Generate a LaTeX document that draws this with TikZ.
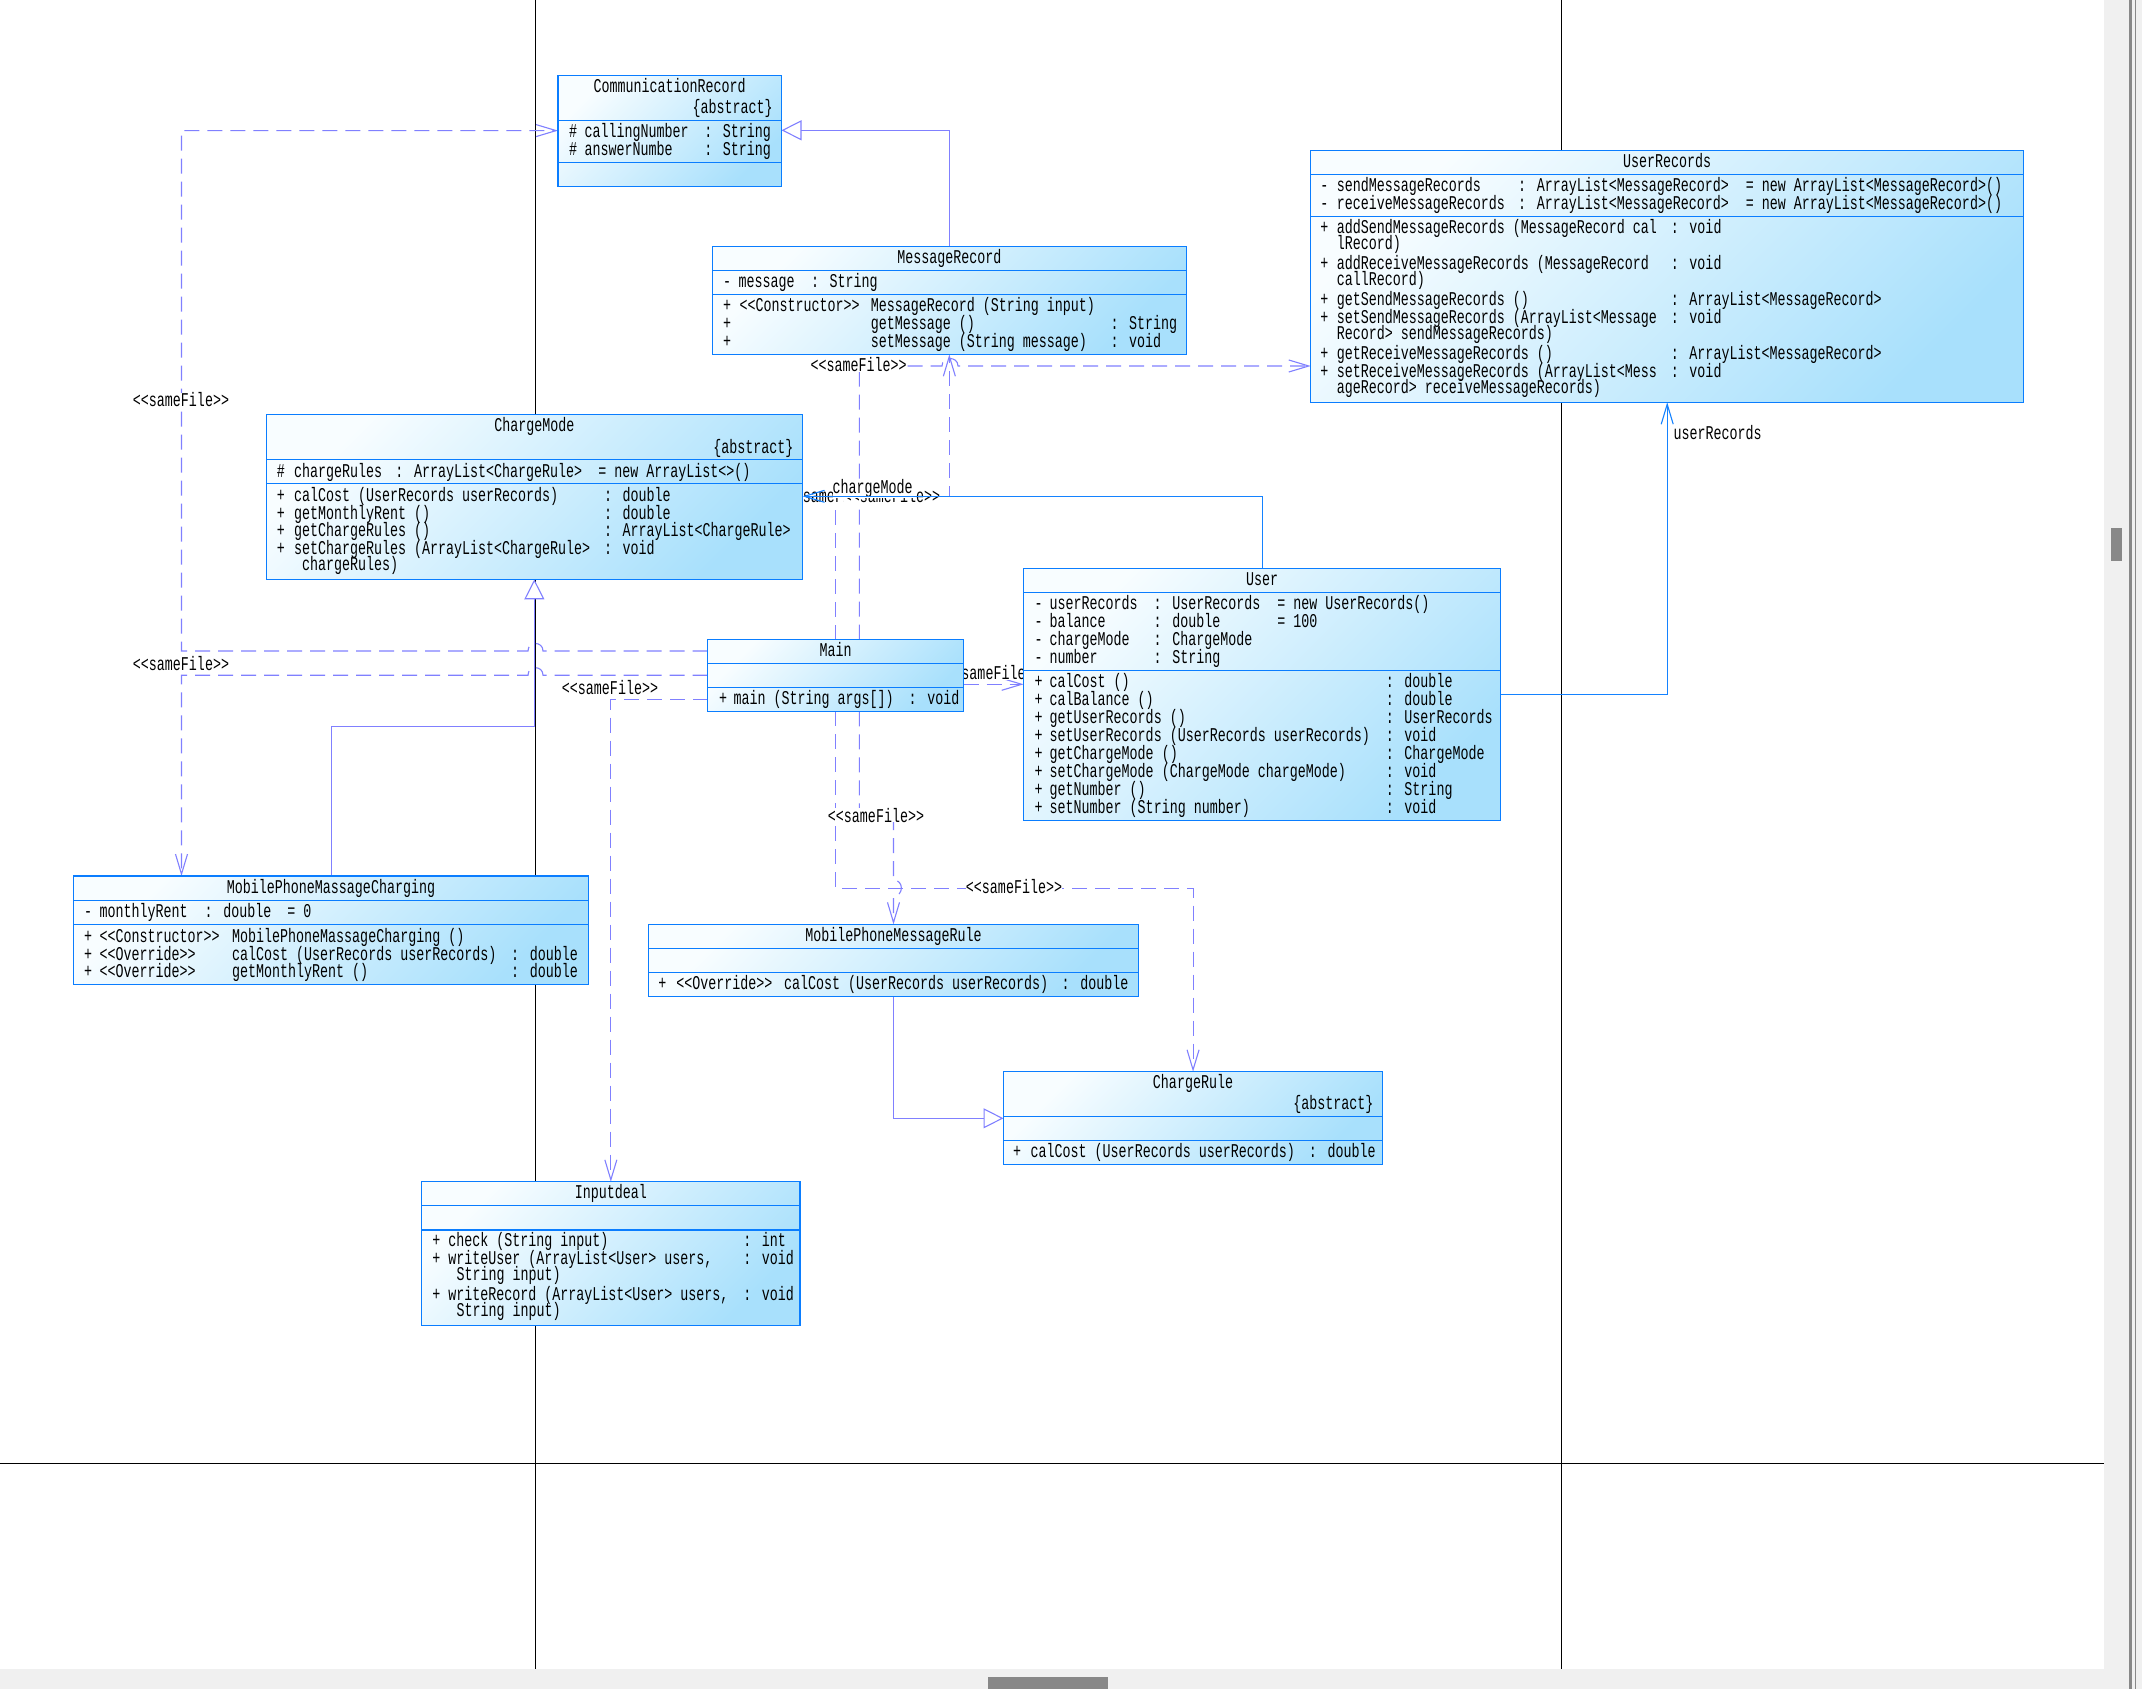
\documentclass[tikz,border=0pt]{standalone}
\usepackage{fontspec}
\newfontfamily\umlf[FakeStretch=0.684,Ligatures=TeXOff]{Liberation Mono}
\usetikzlibrary{arrows.meta}
\definecolor{bbord}{RGB}{10,125,255}
\definecolor{boxtop}{RGB}{248,253,255}
\definecolor{boxbot}{RGB}{168,224,252}
\definecolor{genc}{RGB}{128,128,255}
\definecolor{depc}{RGB}{128,128,255}
\definecolor{ascc}{RGB}{20,130,255}
\definecolor{scrl}{RGB}{240,240,240}
\definecolor{scrd}{RGB}{136,136,136}
\pgfdeclarelayer{bgl}
\pgfdeclarelayer{lnl}
\pgfsetlayers{bgl,lnl,main}
\newcounter{tn}
\newcommand\txL[3]{\stepcounter{tn}\node[txt,anchor=base west] (tx\arabic{tn}) at (#1,#2+5.5) {#3};}
\newcommand\txC[3]{\stepcounter{tn}\node[txt,anchor=base] (tx\arabic{tn}) at (#1,#2+5.5) {#3};}
\newcommand\txR[3]{\stepcounter{tn}\node[txt,anchor=base east] (tx\arabic{tn}) at (#1,#2+5.5) {#3};}
\newcommand\lbC[3]{\stepcounter{tn}\node[txt,fill=white,anchor=base] (tx\arabic{tn}) at (#1,#2+5.5) {#3};}
\newcommand\lbL[3]{\stepcounter{tn}\node[txt,fill=white,anchor=base west] (tx\arabic{tn}) at (#1,#2+5.5) {#3};}
\newcommand\umlbox[7]{%
  \node[box, anchor=north west, minimum width={#4-#2}, minimum height={#5-#3}] (#1) at (#2,#3) {};
  \draw[divl] (#1.west |- 0,#6) -- (#1.east |- 0,#6);
  \draw[divl] (#1.west |- 0,#7) -- (#1.east |- 0,#7);
}
\begin{document}
\begin{tikzpicture}[x=1pt,y=-1pt,
  txt/.style={font=\umlf\fontsize{19.5}{19.5}\selectfont, inner sep=0pt, outer sep=0pt, text=black},
  box/.style={draw=bbord, line width=1.2pt, inner sep=0pt, outer sep=0pt, top color=boxtop, bottom color=boxbot, shading angle=45},
  divl/.style={draw=bbord, line width=1.2pt},
  gen/.style={draw=genc, line width=1.1pt, -{Triangle[length=20pt,width=20pt,fill=white]}},
  dep/.style={draw=depc, line width=1.1pt, dash pattern=on 15pt off 8pt, -{Straight Barb[length=20pt,width=12pt]}},
  asc/.style={draw=ascc, line width=1.1pt, -{Straight Barb[length=20pt,width=12pt]}},
  pagel/.style={draw=black, line width=1.4pt}]
\useasboundingbox (0,0) rectangle (2142,1689);
\begin{pgfonlayer}{bgl}
  \fill[white] (0,0) rectangle (2142,1689);
  \fill[scrl] (2104,0) rectangle (2142,1689);
  \fill[scrl] (0,1669) rectangle (2104,1689);
  \fill[scrd] (2129,0) rectangle (2132,1689);
  \fill[scrd] (2135,0) rectangle (2136,1689);
  \fill[scrd] (2111,528) rectangle (2122,561);
  \fill[scrd] (988,1677) rectangle (1108,1689);
  \draw[pagel] (535.5,0) -- (535.5,1669);
  \draw[pagel] (1561.5,0) -- (1561.5,1669);
  \draw[pagel] (0,1463.3) -- (2104,1463.3);
\end{pgfonlayer}

% ---------------- boxes ----------------
\umlbox{cr}{558}{75.5}{781.5}{186.3}{120.7}{162.3}
\umlbox{mr}{712.3}{246.3}{1186.4}{354.3}{270.3}{294.3}
\umlbox{ur}{1310.7}{150.7}{2023.7}{402.3}{174.3}{216.3}
\umlbox{cm}{266.1}{414.3}{802.6}{579.3}{459.7}{483.3}
\umlbox{us}{1023.6}{568.3}{1500.7}{820.3}{592.3}{670.7}
\umlbox{mn}{707.6}{639.7}{963.5}{711.3}{663.3}{687.7}
\umlbox{mc}{73.8}{876}{588.3}{984.3}{900.7}{924.7}
\umlbox{mrr}{648.7}{924.3}{1138.3}{996.3}{948.7}{972.3}
\umlbox{crl}{1003.5}{1071.7}{1382.6}{1164.3}{1116.7}{1140.3}
\umlbox{inp}{421.7}{1181.7}{800}{1325.3}{1205.3}{1230}

% ---------------- connectors ----------------
\begin{pgfonlayer}{lnl}
  % generalizations
  \draw[gen] (mr.north) |- (cr.east |- 0,130.3);
  \draw[gen] (mrr.south) |- (crl.west |- 0,1118.3);
  \draw[gen] (mc.north) |- (cm.south |- 0,726.7) -- (cm.south);
  % dependencies <<sameFile>>
  \draw[dep] (mn.west |- 0,651) -- (543,651) .. controls (543,641) and (528,641) .. (528,651) -- (181.5,651) -- (181.5,130.6) -- (cr.west |- 0,130.6);
  \draw[dep] (mn.west |- 0,675.2) -- (543,675.2) .. controls (543,665.2) and (528,665.2) .. (528,675.2) -- (181.5,675.2) -- (mc.north -| 181.5,0);
  \draw[dep] (mn.west |- 0,699.3) -- (inp.north |- 0,699.3) -- (inp.north);
  \draw[dep] (mn.north -| 859.3,0) -- (859.3,366) -- (942,366) .. controls (942,356) and (958,356) .. (958,366) -- (ur.west |- 0,366);
  \draw[dep] (mn.north -| 835.3,0) -- (835.3,496.3) -- (mr.south |- 0,496.3) -- (mr.south);
  \draw[dep] (mn.north -| 835.3,0) -- (835.3,496.3) -- (cm.east |- 0,496.3);
  \draw[dep] (mn.south -| 835.3,0) -- (835.3,888.3) -- (crl.north |- 0,888.3) -- (crl.north);
  \draw[dep] (mn.south -| 859.3,0) -- (859.3,816) -- (mrr.north |- 0,816) -- (mrr.north |- 0,880) .. controls (904,880) and (904,896) .. (mrr.north |- 0,896) -- (mrr.north);
  \draw[dep] (mn.east |- 0,684.3) -- (us.west |- 0,684.3);
  % labels of the dependencies
  \lbC{181}{401.2}{<<sameFile>>}
  \lbC{181}{665.2}{<<sameFile>>}
  \lbC{610}{689}{<<sameFile>>}
  \lbC{858.6}{366}{<<sameFile>>}
  \lbC{835}{497.3}{<<sameFile>>}
  \lbC{892}{497.3}{<<sameFile>>}
  \lbC{1014}{888.3}{<<sameFile>>}
  \lbC{876}{816.7}{<<sameFile>>}
  \lbC{993.5}{674.3}{<<sameFile>>}
  % associations
  \lbL{832.7}{488.3}{chargeMode}
  \txL{1673.5}{434.4}{userRecords}
  \draw[asc] (us.north) |- (cm.east |- 0,496.3);
  \draw[asc] (us.east |- 0,694.3) -| (ur.south);
\end{pgfonlayer}

% ---------------- CommunicationRecord ----------------
\txC{669.7}{87}{CommunicationRecord}
\txR{772.6}{108}{\{abstract\}}
\txL{569}{131.7}{\#}\txL{584.6}{131.7}{callingNumber}\txL{704.3}{131.7}{: String}
\txL{569}{150}{\#}\txL{584.6}{150}{answerNumbe}\txL{704.3}{150}{: String}

% ---------------- MessageRecord ----------------
\txC{949.4}{258}{MessageRecord}
\txL{723}{282}{-}\txL{738.6}{282}{message}\txL{811}{282}{: String}
\txL{723}{306}{+}\txL{739.5}{306}{<<Constructor>>}\txL{870.8}{306}{MessageRecord (String input)}
\txL{723}{324}{+}\txL{870.8}{324}{getMessage ()}\txL{1110.5}{324}{: String}
\txL{723}{342.3}{+}\txL{870.8}{342.3}{setMessage (String message)}\txL{1110.5}{342.3}{: void}

% ---------------- UserRecords ----------------
\txC{1667.2}{162.3}{UserRecords}
\txL{1320.4}{186}{-}\txL{1336.8}{186}{sendMessageRecords}\txL{1518.1}{186}{: ArrayList<MessageRecord>}\txL{1745.9}{186}{= new ArrayList<MessageRecord>()}
\txL{1320.4}{204}{-}\txL{1336.8}{204}{receiveMessageRecords}\txL{1518.1}{204}{: ArrayList<MessageRecord>}\txL{1745.9}{204}{= new ArrayList<MessageRecord>()}
\txL{1320.4}{228.3}{+}\txL{1336.8}{228.3}{addSendMessageRecords (MessageRecord cal}\txL{1670.8}{228.3}{: void}
\txL{1336.8}{244}{lRecord)}
\txL{1320.4}{264.3}{+}\txL{1336.8}{264.3}{addReceiveMessageRecords (MessageRecord}\txL{1670.8}{264.3}{: void}
\txL{1336.8}{280}{callRecord)}
\txL{1320.4}{300.3}{+}\txL{1336.8}{300.3}{getSendMessageRecords ()}\txL{1670.8}{300.3}{: ArrayList<MessageRecord>}
\txL{1320.4}{318.3}{+}\txL{1336.8}{318.3}{setSendMessageRecords (ArrayList<Message}\txL{1670.8}{318.3}{: void}
\txL{1336.8}{334}{Record> sendMessageRecords)}
\txL{1320.4}{354.3}{+}\txL{1336.8}{354.3}{getReceiveMessageRecords ()}\txL{1670.8}{354.3}{: ArrayList<MessageRecord>}
\txL{1320.4}{372.3}{+}\txL{1336.8}{372.3}{setReceiveMessageRecords (ArrayList<Mess}\txL{1670.8}{372.3}{: void}
\txL{1336.8}{388.3}{ageRecord> receiveMessageRecords)}

% ---------------- ChargeMode ----------------
\txC{534.4}{426}{ChargeMode}
\txR{793.4}{447.7}{\{abstract\}}
\txL{276.8}{471.7}{\#}\txL{294}{471.7}{chargeRules}\txL{395.4}{471.7}{: ArrayList<ChargeRule>}\txL{598.3}{471.7}{= new ArrayList<>()}
\txL{276.8}{495.7}{+}\txL{294}{495.7}{calCost (UserRecords userRecords)}\txL{604}{495.7}{: double}
\txL{276.8}{513.7}{+}\txL{294}{513.7}{getMonthlyRent ()}\txL{604}{513.7}{: double}
\txL{276.8}{531.3}{+}\txL{294}{531.3}{getChargeRules ()}\txL{604}{531.3}{: ArrayList<ChargeRule>}
\txL{276.8}{549.3}{+}\txL{294}{549.3}{setChargeRules (ArrayList<ChargeRule>}\txL{604}{549.3}{: void}
\txL{302}{565}{chargeRules)}

% ---------------- User ----------------
\txC{1262}{580}{User}
\txL{1034.5}{604}{-}\txL{1049.7}{604}{userRecords}\txL{1153.7}{604}{: UserRecords}\txL{1277.3}{604}{= new UserRecords()}
\txL{1034.5}{622}{-}\txL{1049.7}{622}{balance}\txL{1153.7}{622}{: double}\txL{1277.3}{622}{= 100}
\txL{1034.5}{640.3}{-}\txL{1049.7}{640.3}{chargeMode}\txL{1153.7}{640.3}{: ChargeMode}
\txL{1034.5}{658.3}{-}\txL{1049.7}{658.3}{number}\txL{1153.7}{658.3}{: String}
\txL{1034.5}{681.7}{+}\txL{1049.7}{681.7}{calCost ()}\txL{1385.8}{681.7}{: double}
\txL{1034.5}{699.7}{+}\txL{1049.7}{699.7}{calBalance ()}\txL{1385.8}{699.7}{: double}
\txL{1034.5}{717.7}{+}\txL{1049.7}{717.7}{getUserRecords ()}\txL{1385.8}{717.7}{: UserRecords}
\txL{1034.5}{735.7}{+}\txL{1049.7}{735.7}{setUserRecords (UserRecords userRecords)}\txL{1385.8}{735.7}{: void}
\txL{1034.5}{753.7}{+}\txL{1049.7}{753.7}{getChargeMode ()}\txL{1385.8}{753.7}{: ChargeMode}
\txL{1034.5}{771.7}{+}\txL{1049.7}{771.7}{setChargeMode (ChargeMode chargeMode)}\txL{1385.8}{771.7}{: void}
\txL{1034.5}{789.7}{+}\txL{1049.7}{789.7}{getNumber ()}\txL{1385.8}{789.7}{: String}
\txL{1034.5}{807.7}{+}\txL{1049.7}{807.7}{setNumber (String number)}\txL{1385.8}{807.7}{: void}

% ---------------- Main ----------------
\txC{835.5}{651.3}{Main}
\txL{719}{699.3}{+}\txL{733.6}{699.3}{main (String args[])}\txL{908.7}{699.3}{: void}

% ---------------- MobilePhoneMassageCharging ----------------
\txC{331}{888.3}{MobilePhoneMassageCharging}
\txL{84}{912.3}{-}\txL{99.6}{912.3}{monthlyRent}\txL{204.7}{912.3}{: double}\txL{287.3}{912.3}{= 0}
\txL{84}{936.7}{+}\txL{99.6}{936.7}{<<Constructor>>}\txL{232.2}{936.7}{MobilePhoneMassageCharging ()}
\txL{84}{954.7}{+}\txL{99.6}{954.7}{<<Override>>}\txL{232.2}{954.7}{calCost (UserRecords userRecords)}\txL{511.2}{954.7}{: double}
\txL{84}{972.3}{+}\txL{99.6}{972.3}{<<Override>>}\txL{232.2}{972.3}{getMonthlyRent ()}\txL{511.2}{972.3}{: double}

% ---------------- MobilePhoneMessageRule ----------------
\txC{893.5}{936}{MobilePhoneMessageRule}
\txL{658.4}{984}{+}\txL{676.4}{984}{<<Override>>}\txL{784}{984}{calCost (UserRecords userRecords)}\txL{1061.7}{984}{: double}

% ---------------- ChargeRule ----------------
\txC{1193}{1083.3}{ChargeRule}
\txR{1373.3}{1104}{\{abstract\}}
\txL{1013.2}{1152.3}{+}\txL{1030.7}{1152.3}{calCost (UserRecords userRecords)}\txL{1308.9}{1152.3}{: double}

% ---------------- Inputdeal ----------------
\txC{610.8}{1193.3}{Inputdeal}
\txL{432.3}{1241}{+}\txL{448.3}{1241}{check (String input)}\txL{743.3}{1241}{: int}
\txL{432.3}{1259.3}{+}\txL{448.3}{1259.3}{writeUser (ArrayList<User> users,}\txL{743.3}{1259.3}{: void}
\txL{456.7}{1275.3}{String input)}
\txL{432.3}{1295.3}{+}\txL{448.3}{1295.3}{writeRecord (ArrayList<User> users,}\txL{743.3}{1295.3}{: void}
\txL{456.7}{1310.7}{String input)}
\end{tikzpicture}
\end{document}
